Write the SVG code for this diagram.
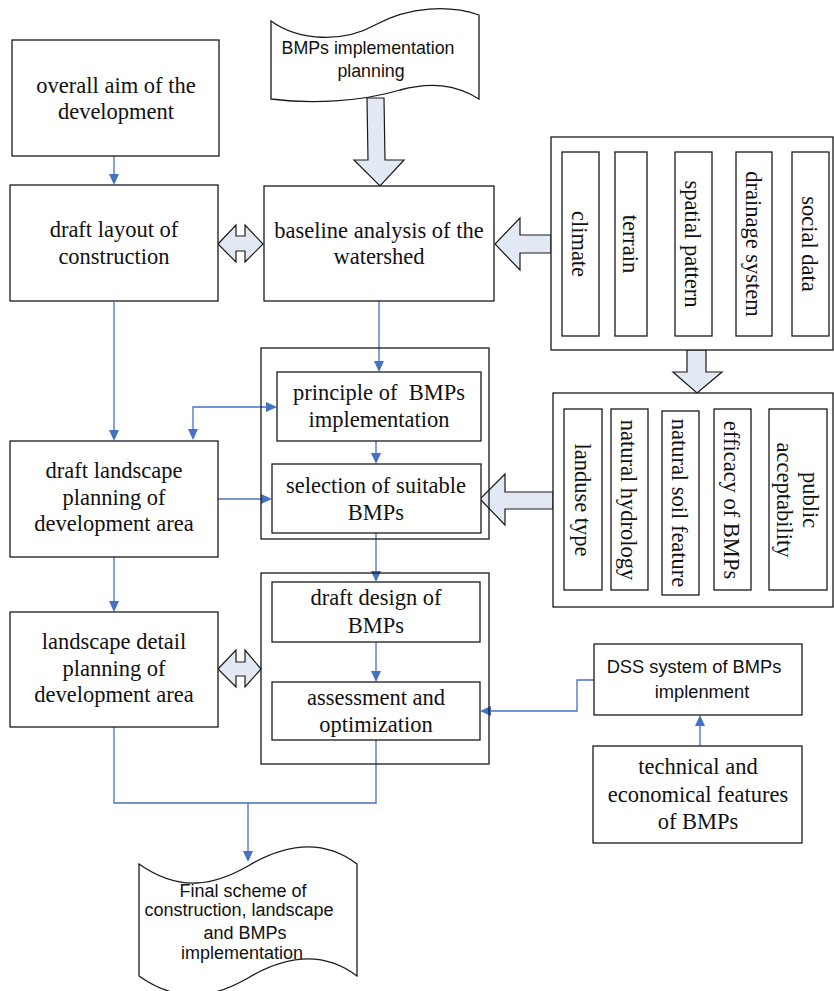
<svg xmlns="http://www.w3.org/2000/svg" width="834" height="991" viewBox="0 0 834 991">
<defs>
<style>
.box{fill:#fff;stroke:#1a1a1a;stroke-width:1.3}
.big{fill:#e2e9f5;stroke:#1a1a1a;stroke-width:1.2}
.con{fill:none;stroke:#4472c4;stroke-width:1.3}
.hd{fill:#4472c4;stroke:none}
.s{font-family:"Liberation Sans",serif;font-size:22.5px;fill:#111;text-anchor:middle}
.s{font-family:"Liberation Serif",serif}
.a{font-family:"Liberation Sans",Arial,sans-serif;font-size:17.8px;fill:#111;text-anchor:middle}
</style>
</defs>
<rect width="834" height="991" fill="#fff"/>

<g id="connectors">
<path class="con" d="M114,156 L114,176"/>
<path class="con" d="M114,302 L114,432"/>
<path class="con" d="M114,557 L114,603"/>
<path class="con" d="M379,301 L379,363"/>
<path class="con" d="M376,441 L376,455"/>
<path class="con" d="M376,533 L376,573"/>
<path class="con" d="M376,642 L376,673"/>
<path class="con" d="M218,499 L263,499"/>
<path class="con" d="M193,431 L193,407 L268,407"/>
<path class="con" d="M594,680 L577,680 L577,711 L489,711"/>
<path class="con" d="M700,746 L700,724"/>
<path class="con" d="M114,727 L114,803 L376,803 L376,740"/>
<path class="con" d="M248,803 L248,853"/>
<polygon class="hd" points="109,174 119,174 114,185"/>
<polygon class="hd" points="109,430 119,430 114,441"/>
<polygon class="hd" points="109,601 119,601 114,612"/>
<polygon class="hd" points="374,361 384,361 379,372"/>
<polygon class="hd" points="371,453 381,453 376,464"/>
<polygon class="hd" points="371,571 381,571 376,582"/>
<polygon class="hd" points="371,671 381,671 376,682"/>
<polygon class="hd" points="261,494 261,504 272,499"/>
<polygon class="hd" points="266,402 266,412 277,407"/>
<polygon class="hd" points="188,429 198,429 193,440"/>
<polygon class="hd" points="491,706 491,716 480,711"/>
<polygon class="hd" points="695,726 705,726 700,715"/>
<polygon class="hd" points="243,851 253,851 248,862"/>
</g>

<g id="bigarrows">
<path class="big" d="M367,98 L384,98 L385,160 L404,160 L380,186 L354,160 L368,160 Z"/>
<path class="big" d="M218,244 L236,225 L236,236 L245,236 L245,225 L263,244 L245,262 L245,251 L236,251 L236,262 Z"/>
<path class="big" d="M551,235 L520,235 L520,218 L495,244 L520,270 L520,253 L551,253 Z"/>
<path class="big" d="M687,350 L706,350 L706,372 L722,372 L697,393 L673,372 L687,372 Z"/>
<path class="big" d="M553,492 L505,492 L505,474 L480,499 L505,525 L505,509 L553,509 Z"/>
<path class="big" d="M218,669 L236,650 L236,662 L245,662 L245,650 L261,669 L245,687 L245,676 L236,676 L236,687 Z"/>
</g>

<g id="n-planning">
<path class="box" d="M271,21 C300,42 345,42 375,25 C410,6 450,5 479,15 L479,99 C455,84 430,82 400,90 C360,102 310,104 271,99 Z"/>
<text class="a" x="368" y="54">BMPs implementation</text>
<text class="a" x="371" y="77">planning</text>
</g>

<g id="n-aim">
<rect class="box" x="12" y="40" width="207" height="116"/>
<text class="s" x="116" y="93">overall aim of the</text>
<text class="s" x="116" y="119">development</text>
</g>

<g id="n-layout">
<rect class="box" x="10" y="185" width="208" height="116"/>
<text class="s" x="114" y="237">draft layout of</text>
<text class="s" x="114" y="264">construction</text>
</g>

<g id="n-baseline">
<rect class="box" x="264" y="186" width="230" height="115"/>
<text class="s" x="379" y="238">baseline analysis of the</text>
<text class="s" x="379" y="264">watershed</text>
</g>

<g id="n-group1">
<rect class="box" x="551" y="137" width="282" height="213"/>
<rect class="box" x="562" y="152" width="37" height="184"/>
<rect class="box" x="615" y="152" width="32" height="184"/>
<rect class="box" x="675" y="152" width="37" height="184"/>
<rect class="box" x="736" y="152" width="36" height="184"/>
<rect class="box" x="792" y="152" width="37" height="184"/>
<text class="s" x="580" y="244" dy="8" transform="rotate(90 580 244)">climate</text>
<text class="s" x="631" y="244" dy="8" transform="rotate(90 631 244)">terrain</text>
<text class="s" x="693" y="244" dy="8" transform="rotate(90 693 244)">spatial pattern</text>
<text class="s" x="754" y="244" dy="8" transform="rotate(90 754 244)">drainage system</text>
<text class="s" x="810" y="244" dy="8" transform="rotate(90 810 244)">social data</text>
</g>

<g id="n-group2">
<rect class="box" x="553" y="393" width="280" height="214"/>
<rect class="box" x="564" y="409" width="38" height="181"/>
<rect class="box" x="611" y="409" width="37" height="181"/>
<rect class="box" x="662" y="411" width="37" height="184"/>
<rect class="box" x="714" y="409" width="37" height="181"/>
<rect class="box" x="769" y="409" width="58" height="181"/>
<text class="s" x="583" y="500" dy="8" transform="rotate(90 583 500)">landuse type</text>
<text class="s" x="629" y="500" dy="8" transform="rotate(90 629 500)">natural hydrology</text>
<text class="s" x="680" y="503" dy="8" transform="rotate(90 680 503)">natural soil feature</text>
<text class="s" x="732" y="500" dy="8" transform="rotate(90 732 500)">efficacy of BMPs</text>
<text class="s" x="811" y="500" dy="8" transform="rotate(90 811 500)">public</text>
<text class="s" x="785" y="500" dy="8" transform="rotate(90 785 500)">acceptability</text>
</g>

<g id="n-container1">
<rect class="box" x="261" y="348" width="228" height="191" style="fill:none"/>
</g>
<g id="n-principle">
<rect class="box" x="277" y="372" width="204" height="69"/>
<text class="s" x="379" y="400">principle of&#160; BMPs</text>
<text class="s" x="379" y="427">implementation</text>
</g>
<g id="n-selection">
<rect class="box" x="272" y="464" width="209" height="69"/>
<text class="s" x="376" y="493">selection of suitable</text>
<text class="s" x="376" y="520">BMPs</text>
</g>

<g id="n-landscape">
<rect class="box" x="10" y="441" width="208" height="116"/>
<text class="s" x="114" y="478">draft landscape</text>
<text class="s" x="114" y="505">planning of</text>
<text class="s" x="114" y="531">development area</text>
</g>

<g id="n-container2">
<rect class="box" x="261" y="573" width="228" height="191" style="fill:none"/>
</g>
<g id="n-design">
<rect class="box" x="272" y="582" width="208" height="60"/>
<text class="s" x="376" y="605">draft design of</text>
<text class="s" x="376" y="633">BMPs</text>
</g>
<g id="n-assessment">
<rect class="box" x="272" y="682" width="208" height="58"/>
<text class="s" x="376" y="705">assessment and</text>
<text class="s" x="376" y="732">optimization</text>
</g>

<g id="n-detail">
<rect class="box" x="10" y="612" width="208" height="115"/>
<text class="s" x="114" y="649">landscape detail</text>
<text class="s" x="114" y="676">planning of</text>
<text class="s" x="114" y="702">development area</text>
</g>

<g id="n-dss">
<rect class="box" x="594" y="644" width="208" height="71"/>
<text class="a" x="694" y="673" style="font-size:18.3px">DSS system of BMPs</text>
<text class="a" x="702" y="698" style="font-size:18.3px">implenment</text>
</g>

<g id="n-technical">
<rect class="box" x="593" y="746" width="209" height="97"/>
<text class="s" x="698" y="774">technical and</text>
<text class="s" x="698" y="802">economical features</text>
<text class="s" x="698" y="829">of BMPs</text>
</g>

<g id="n-final">
<path class="box" d="M139,864 C180,893 215,885 248,866 C280,847 320,836 357,864 L357,976 C320,948 280,959 248,978 C215,997 180,1005 139,976 Z"/>
<text class="a" x="243" y="897" style="font-size:18px">Final scheme of</text>
<text class="a" x="239" y="916" style="font-size:18px">construction, landscape</text>
<text class="a" x="245" y="939" style="font-size:18px">and BMPs</text>
<text class="a" x="242" y="959" style="font-size:18px">implementation</text>
</g>
</svg>
